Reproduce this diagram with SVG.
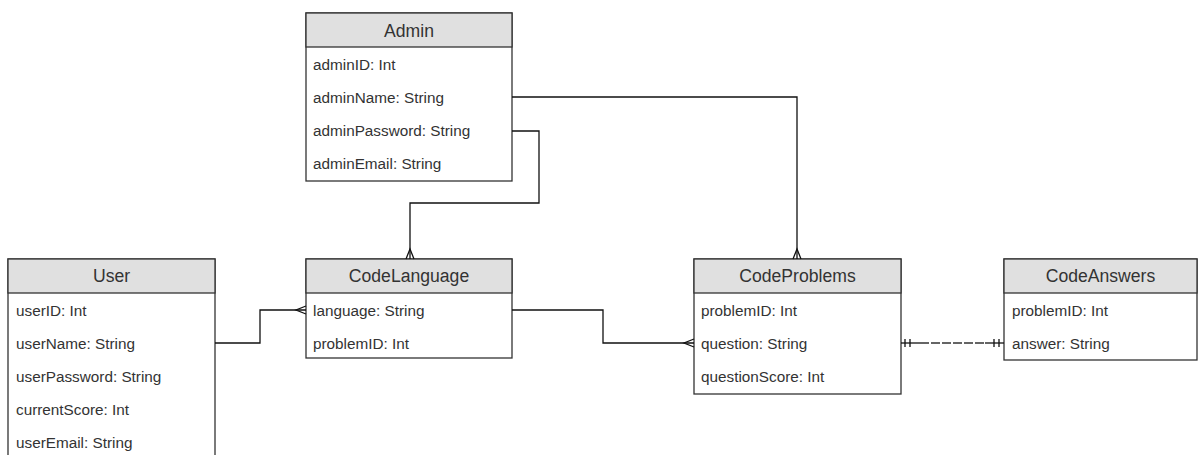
<svg xmlns="http://www.w3.org/2000/svg" width="1198" height="455" viewBox="0 0 1198 455">
<style>
.box{fill:#fff;stroke:#333;stroke-width:1.3}
.hdr{fill:#e0e0e0;stroke:#333;stroke-width:1.3}
.ht{font-family:"Liberation Sans",Arial,sans-serif;font-size:17.6px;fill:#333;text-anchor:middle}
.rt{font-family:"Liberation Sans",Arial,sans-serif;font-size:15.3px;fill:#333}
.ln{fill:none;stroke:#111;stroke-width:1.3}
</style>
<rect width="1198" height="455" fill="#fff"/>
<g id="admin">
<rect class="box" x="306" y="13" width="206" height="168"/>
<rect class="hdr" x="306" y="13" width="206" height="34"/>
<text class="ht" x="409" y="37">Admin</text>
<text class="rt" x="313" y="70">adminID: Int</text>
<text class="rt" x="313" y="103">adminName: String</text>
<text class="rt" x="313" y="136">adminPassword: String</text>
<text class="rt" x="313" y="169">adminEmail: String</text>
</g>
<g id="user">
<rect class="box" x="8" y="259" width="207" height="210"/>
<rect class="hdr" x="8" y="259" width="207" height="34"/>
<text class="ht" x="111.5" y="282">User</text>
<text class="rt" x="16" y="316">userID: Int</text>
<text class="rt" x="16" y="349">userName: String</text>
<text class="rt" x="16" y="382">userPassword: String</text>
<text class="rt" x="16" y="415">currentScore: Int</text>
<text class="rt" x="16" y="448">userEmail: String</text>
</g>
<g id="codelanguage">
<rect class="box" x="306" y="259" width="206" height="99"/>
<rect class="hdr" x="306" y="259" width="206" height="34"/>
<text class="ht" x="409" y="282">CodeLanguage</text>
<text class="rt" x="313" y="316">language: String</text>
<text class="rt" x="313" y="349">problemID: Int</text>
</g>
<g id="codeproblems">
<rect class="box" x="694" y="259" width="207" height="135"/>
<rect class="hdr" x="694" y="259" width="207" height="34"/>
<text class="ht" x="797.5" y="282">CodeProblems</text>
<text class="rt" x="701" y="316">problemID: Int</text>
<text class="rt" x="701" y="349">question: String</text>
<text class="rt" x="701" y="382">questionScore: Int</text>
</g>
<g id="codeanswers">
<rect class="box" x="1004" y="259" width="193" height="101"/>
<rect class="hdr" x="1004" y="259" width="193" height="34"/>
<text class="ht" x="1100.5" y="282">CodeAnswers</text>
<text class="rt" x="1012" y="316">problemID: Int</text>
<text class="rt" x="1012" y="349">answer: String</text>
</g>
<g id="connectors">
<path class="ln" d="M512,97 H797 V259"/>
<path class="ln" d="M793,259 L797,249 L801,259"/>
<path class="ln" d="M512,131 H539 V203 H410 V259"/>
<path class="ln" d="M406,259 L410,249 L414,259"/>
<path class="ln" d="M215,343 H260 V310 H306"/>
<path class="ln" d="M306,306 L296,310 L306,314"/>
<path class="ln" d="M512,310 H603 V343 H694"/>
<path class="ln" d="M694,339 L684,343 L694,347"/>
<path class="ln" d="M901,343 H920"/>
<path class="ln" d="M985,343 H1004"/>
<path d="M920,343 H985" fill="none" stroke="#333" stroke-width="1.3" stroke-dasharray="9,2"/>
<path class="ln" d="M905,339 V347 M910,339 V347 M994,339 V347 M999,339 V347"/>
</g>
</svg>
